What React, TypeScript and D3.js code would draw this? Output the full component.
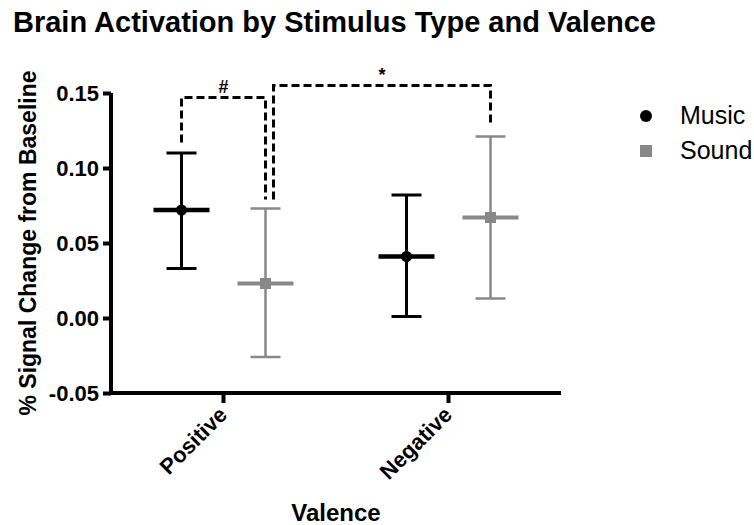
import React, { useEffect, useRef } from 'react';
import * as d3 from 'd3';

const categories = ['Positive', 'Negative'];
const seriesNames = ['Music', 'Sound'];

const musicMean = [0.072, 0.041];
const musicLow = [0.033, 0.001];
const musicHigh = [0.11, 0.082];

const soundMean = [0.023, 0.067];
const soundLow = [-0.026, 0.013];
const soundHigh = [0.073, 0.121];

const yTicks = [-0.05, 0.0, 0.05, 0.1, 0.15];

// significance brackets: [category, series] for each end, end heights, top height
const brackets = [
  { label: '#', from: ['Positive', 'Music'], to: ['Positive', 'Sound'], fromY: 0.117, toY: 0.079, top: 0.147, nudge: 0 },
  { label: '*', from: ['Positive', 'Sound'], to: ['Negative', 'Sound'], fromY: 0.079, toY: 0.129, top: 0.155, nudge: 8 },
];

const App = () => {
  const ref = useRef<SVGSVGElement>(null);

  useEffect(() => {
    const svg = d3.select(ref.current);
    svg.selectAll('*').remove();

    const font = '"Liberation Sans", Arial, sans-serif';
    const left = 111, right = 561, top = 93, bottom = 393;

    const x = d3.scaleBand().domain(categories).range([left, right]);
    const inner = d3.scaleBand().domain(seriesNames).range([-84, 84]);
    const y = d3.scaleLinear().domain([-0.05, 0.15]).range([bottom, top]);

    const cx = (cat: string, s: string) => x(cat)! + x.bandwidth() / 2 + inner(s)! + inner.bandwidth() / 2;

    // title
    svg.append('text')
      .attr('x', 13).attr('y', 32)
      .attr('font-family', font).attr('font-weight', 'bold').attr('font-size', 29)
      .text('Brain Activation by Stimulus Type and Valence');

    // y axis
    const fmt = (d: number) => d.toFixed(2); // plain hyphen minus, like the original
    const yAxis = svg.append('g')
      .attr('transform', `translate(${left},0)`)
      .call(d3.axisLeft(y).tickValues(yTicks).tickSize(8).tickPadding(4).tickFormat(d => fmt(+d)));
    yAxis.select('.domain').attr('stroke-width', 4).attr('d', `M0,${top}V${bottom}`);
    yAxis.selectAll('.tick line').attr('stroke-width', 4);
    yAxis.selectAll('.tick text')
      .attr('font-family', font).attr('font-weight', 'bold').attr('font-size', 22).attr('fill', '#000');

    // x axis
    const xAxis = svg.append('g')
      .attr('transform', `translate(0,${bottom})`)
      .call(d3.axisBottom(x).tickSize(10).tickFormat(() => ''));
    xAxis.select('.domain').attr('stroke-width', 4).attr('d', `M${left - 2},0H${right}`);
    xAxis.selectAll('.tick line').attr('stroke-width', 4);

    svg.append('g')
      .selectAll('text')
      .data(categories)
      .join('text')
      .attr('transform', d => `translate(${x(d)! + x.bandwidth() / 2 + 5},${bottom + 23}) rotate(-45)`)
      .attr('text-anchor', 'end')
      .attr('font-family', font).attr('font-weight', 'bold').attr('font-size', 22)
      .text(d => d);

    svg.append('text')
      .attr('x', (left + right) / 2).attr('y', 521)
      .attr('text-anchor', 'middle')
      .attr('font-family', font).attr('font-weight', 'bold').attr('font-size', 24)
      .text('Valence');

    svg.append('text')
      .attr('transform', `translate(36,${(top + bottom) / 2}) rotate(-90)`)
      .attr('text-anchor', 'middle')
      .attr('font-family', font).attr('font-weight', 'bold').attr('font-size', 23)
      .text('% Signal Change from Baseline');

    // error bars
    const series = [
      { name: 'Music', mean: musicMean, low: musicLow, high: musicHigh, color: '#000', w: 3, mw: 4.5 },
      { name: 'Sound', mean: soundMean, low: soundLow, high: soundHigh, color: '#888', w: 2.5, mw: 4 },
    ];

    series.forEach(s => {
      const g = svg.append('g').attr('stroke', s.color).attr('fill', 'none');
      categories.forEach((cat, i) => {
        const px = cx(cat, s.name);
        g.append('line').attr('x1', px).attr('x2', px)
          .attr('y1', y(s.low[i])).attr('y2', y(s.high[i])).attr('stroke-width', s.w);
        [s.low[i], s.high[i]].forEach(v => {
          g.append('line').attr('x1', px - 15).attr('x2', px + 15)
            .attr('y1', y(v)).attr('y2', y(v)).attr('stroke-width', s.w);
        });
        g.append('line').attr('x1', px - 28).attr('x2', px + 28)
          .attr('y1', y(s.mean[i])).attr('y2', y(s.mean[i])).attr('stroke-width', s.mw);
        if (s.name === 'Music') {
          svg.append('circle').attr('cx', px).attr('cy', y(s.mean[i])).attr('r', 5.5).attr('fill', s.color);
        } else {
          svg.append('rect').attr('x', px - 5.5).attr('y', y(s.mean[i]) - 5.5)
            .attr('width', 11).attr('height', 11).attr('fill', s.color);
        }
      });
    });

    // significance brackets
    brackets.forEach(b => {
      const x1 = cx(b.from[0], b.from[1]) + b.nudge;
      const x2 = cx(b.to[0], b.to[1]);
      svg.append('path')
        .attr('d', `M${x1},${y(b.fromY)}V${y(b.top)}H${x2}V${y(b.toY)}`)
        .attr('fill', 'none').attr('stroke', '#000').attr('stroke-width', 3)
        .attr('stroke-dasharray', '8,4');
      svg.append('text')
        .attr('x', (x1 + x2) / 2).attr('y', y(b.top) - 5)
        .attr('text-anchor', 'middle')
        .attr('font-family', font).attr('font-weight', 'bold').attr('font-size', 18)
        .text(b.label);
    });

    // legend
    const legend = svg.append('g').attr('transform', 'translate(646,116)');
    legend.append('circle').attr('cx', 0).attr('cy', 0).attr('r', 6).attr('fill', '#000');
    legend.append('rect').attr('x', -6).attr('y', 29).attr('width', 12).attr('height', 12).attr('fill', '#888');
    legend.selectAll('text')
      .data(seriesNames)
      .join('text')
      .attr('x', 34).attr('y', (d, i) => 8 + i * 35)
      .attr('font-family', font).attr('font-size', 25)
      .text(d => d);
  }, []);

  return (
    <svg ref={ref} width={754} height={525}
      style={{ position: 'absolute', left: 0, top: 0, background: '#fff' }} />
  );
};

export default App;
